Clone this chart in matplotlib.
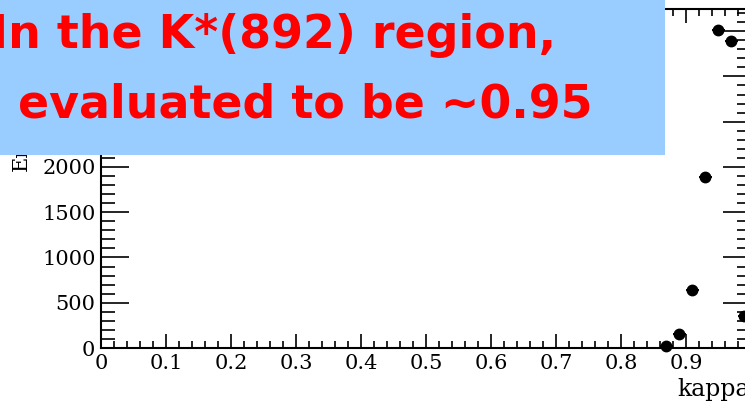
import numpy as np
import matplotlib
matplotlib.use("Agg")
import matplotlib.pyplot as plt
from matplotlib.patches import Rectangle
from matplotlib.ticker import MultipleLocator

# ====== DADOS ======
kappa = [0.87, 0.89, 0.91, 0.93, 0.95, 0.97, 0.99]
contagens = [20, 155, 640, 1890, 3510, 3390, 355]
largura_bin = 0.02

x_ticks = [0, 0.1, 0.2, 0.3, 0.4, 0.5, 0.6, 0.7, 0.8, 0.9]
x_labels = ["0", "0.1", "0.2", "0.3", "0.4", "0.5", "0.6", "0.7", "0.8", "0.9"]
y_ticks = [0, 500, 1000, 1500, 2000, 2500, 3000, 3500]

linha1 = "In the K*(892) region,"
linha2 = "evaluated to be ~0.95"

# ====== FIGURA ======
W, H = 745, 403
fig = plt.figure(figsize=(W / 100, H / 100), dpi=100)
ax = fig.add_axes([101 / W, 55 / H, 650 / W, 339 / H])

erro_y = np.sqrt(contagens)
ax.errorbar(kappa, contagens, xerr=largura_bin / 2, yerr=erro_y, fmt="o",
            color="black", ms=7.5, elinewidth=1.4, capsize=0, clip_on=False,
            zorder=3)

ax.set_xlim(0, 1.0)
ax.set_ylim(0, 3745)

ax.set_xticks(x_ticks)
ax.set_xticklabels(x_labels)
ax.set_yticks(y_ticks)
ax.xaxis.set_minor_locator(MultipleLocator(0.02))
ax.yaxis.set_minor_locator(MultipleLocator(100))

ax.tick_params(which="both", direction="in", top=True, right=True,
               labelsize=15, width=1.2, colors="black")
ax.tick_params(axis="x", which="major", length=10, pad=4)
ax.tick_params(axis="x", which="minor", length=5)
ax.tick_params(axis="y", which="major", length=20, pad=4)
ax.tick_params(axis="y", which="minor", length=10)
for lab in ax.get_xticklabels() + ax.get_yticklabels():
    lab.set_family("DejaVu Serif")
for s in ax.spines.values():
    s.set_linewidth(1.5)

fig.text(677 / W, 2 / H, "kappa", family="DejaVu Serif", fontsize=17,
         ha="left", va="bottom")
fig.text(21 / W, 1 - 171 / H, "Entries", family="DejaVu Serif", fontsize=15,
         rotation=90, ha="center", va="bottom")

# ====== CAIXA DE TEXTO ======
fig.patches.append(Rectangle((0, 1 - 155 / H), 665 / W, 155 / H,
                             transform=fig.transFigure, facecolor="#99ccff",
                             edgecolor="none", zorder=10))
fig.text(-9 / W, 1 - 48 / H, linha1, color="#ff0000", fontsize=33,
         fontweight="bold", family="DejaVu Sans", ha="left", va="baseline",
         zorder=11)
fig.text(18 / W, 1 - 117 / H, linha2, color="#ff0000", fontsize=33,
         fontweight="bold", family="DejaVu Sans", ha="left", va="baseline",
         zorder=11)

fig.savefig("out.png", dpi=100)
